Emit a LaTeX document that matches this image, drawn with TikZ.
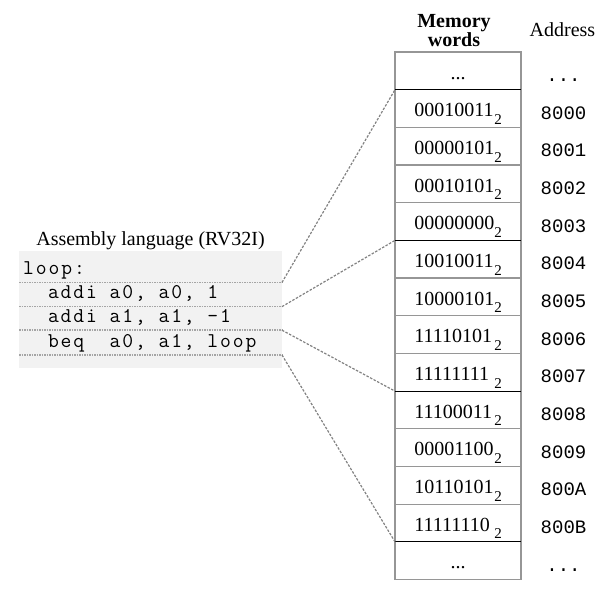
\documentclass[tikz,border=0pt]{standalone}
\usepackage{fontspec}
\setmainfont{Liberation Serif}
\newfontfamily\codefont{Latin Modern Mono}[LetterSpace=9]
\newfontfamily\addrfont{Liberation Mono}
\definecolor{codebg}{RGB}{242,242,242}
\definecolor{gridgray}{RGB}{150,150,150}
\definecolor{sepgray}{RGB}{165,165,165}
\definecolor{conngray}{RGB}{130,130,130}
% subscript base marker placed below the digits
\newcommand\basesub[1]{\raisebox{-7.6pt}{\fontsize{15}{15}\selectfont #1}}
\newcommand\binword[1]{\makebox[80pt][l]{#1}\basesub{2}}
\newcommand\moredots{...}
\begin{document}
\begin{tikzpicture}[x=1pt,y=-1pt,
  cell/.style={draw=gridgray, line width=1.2pt, minimum width=126pt,
    minimum height=37.68pt, inner sep=0pt, outer sep=0pt,
    text height=16.4pt, text depth=0pt, font=\fontsize{20}{24}\selectfont},
  addr/.style={anchor=base, inner sep=0pt, font=\addrfont\fontsize{19}{23}\selectfont},
  codeline/.style={anchor=base west, inner sep=0pt, font=\codefont\fontsize{21}{24}\selectfont},
  heading/.style={inner sep=0pt, font=\fontsize{20}{24}\selectfont},
  wordline/.style={black, line width=1.2pt},
  sepline/.style={sepgray, line width=1.5pt, dash pattern=on 1.5pt off 1pt},
  conn/.style={conngray, line width=1.2pt, dash pattern=on 2.5pt off 1.5pt}]
\useasboundingbox (0,0) rectangle (605,590);

% headings
\node[heading, anchor=base, align=center, font=\bfseries\fontsize{20}{19.4}\selectfont]
  (memhead) at (454,46.7) {Memory\\words};
\node[heading, anchor=base] (addrhead) at (562.5,36.7) {Address};
\node[heading, anchor=base] (asmhead) at (150.5,245) {Assembly language (RV32I)};

% memory cells and their addresses
\foreach \i/\w/\a in {0/\moredots/\moredots, 1/\binword{00010011}/8000, 2/\binword{00000101}/8001,
    3/\binword{00010101}/8002, 4/\binword{00000000}/8003, 5/\binword{10010011}/8004,
    6/\binword{10000101}/8005, 7/\binword{11110101}/8006, 8/\binword{11111111}/8007,
    9/\binword{11100011}/8008, 10/\binword{00001100}/8009, 11/\binword{10110101}/800A,
    12/\binword{11111110}/800B, 13/\moredots/\moredots}{
  \node[cell] (m\i) at (458,{52+(\i+0.5)*37.68}) {\w};
  \node[addr] (a\i) at (563.5,{52+(\i+0.5)*37.68+10.5}) {\a};
}
% word boundaries
\foreach \i in {1,5,9,13}{
  \draw[wordline] (m\i.north west) -- (m\i.north east);
}

% assembly listing
\node[fill=codebg, minimum width=263pt, minimum height=117pt, inner sep=0pt,
  outer sep=0pt, anchor=north west] (code) at (19,251) {};
\node[codeline] (l0) at (23,274.5) {loop:};
\node[codeline] (l1) at (47.8,298.9) {addi a0, a0, 1};
\node[codeline] (l2) at (47.8,322.9) {addi a1, a1, -1};
\node[codeline] (l3) at (47.8,347.1) {beq\ \ a0, a1, loop};

\coordinate (s1) at (282,282.4);
\coordinate (s2) at (282,306.6);
\coordinate (s3) at (282,330.2);
\coordinate (s4) at (282,355);
\foreach \s in {s1,s2,s3,s4}{
  \draw[sepline] (\s -| code.west) -- (\s);
}

% instructions to their memory words
\draw[conn] (s1) -- (m1.north west);
\draw[conn] (s2) -- (m5.north west);
\draw[conn] (s3) -- (m9.north west);
\draw[conn] (s4) -- (m13.north west);
\end{tikzpicture}
\end{document}
